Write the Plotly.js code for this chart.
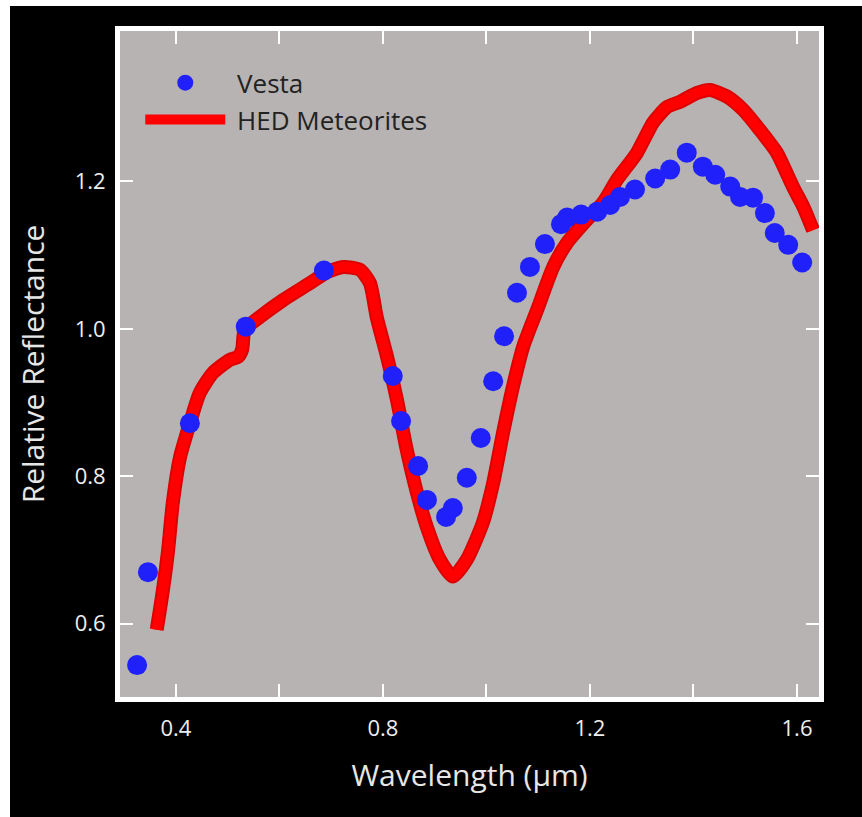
<!DOCTYPE html>
<html>
<head>
<meta charset="utf-8">
<script src="https://cdn.plot.ly/plotly-3.0.1.min.js"></script>
<style>
html,body{margin:0;padding:0;background:#ffffff;width:862px;height:817px;overflow:hidden;}
#chart{position:absolute;left:10px;top:6px;width:852px;height:811px;}
</style>
</head>
<body>
<div id="chart"></div>
<script>
// Vesta spectrum (points)
const vestaX = [0.325,0.346,0.427,0.535,0.686,0.819,0.835,0.868,0.885,0.922,0.935,0.962,0.989,1.013,1.034,1.059,1.084,1.113,1.144,1.156,1.183,1.214,1.239,1.258,1.287,1.326,1.355,1.387,1.418,1.442,1.471,1.490,1.515,1.538,1.557,1.583,1.610];
const vestaY = [0.544,0.670,0.872,1.003,1.079,0.936,0.875,0.814,0.768,0.745,0.757,0.798,0.852,0.929,0.990,1.049,1.084,1.115,1.142,1.151,1.155,1.159,1.168,1.179,1.189,1.204,1.216,1.239,1.220,1.209,1.193,1.179,1.178,1.157,1.130,1.114,1.090];

// HED meteorites average spectrum (line)
const hedX = [0.363,0.375,0.385,0.394,0.408,0.427,0.446,0.471,0.504,0.520,0.528,0.533,0.562,0.607,0.659,0.692,0.723,0.756,0.775,0.788,0.808,0.827,0.846,0.866,0.885,0.910,0.935,0.962,0.993,1.013,1.032,1.051,1.071,1.098,1.129,1.156,1.194,1.225,1.252,1.291,1.322,1.349,1.374,1.407,1.432,1.465,1.496,1.528,1.561,1.592,1.612,1.631];
const hedY = [0.592,0.646,0.700,0.764,0.826,0.872,0.913,0.940,0.958,0.962,0.972,0.999,1.016,1.039,1.062,1.077,1.084,1.080,1.062,1.016,0.962,0.904,0.836,0.777,0.731,0.687,0.664,0.687,0.737,0.791,0.859,0.921,0.976,1.026,1.084,1.117,1.148,1.171,1.202,1.239,1.280,1.301,1.308,1.320,1.324,1.315,1.297,1.270,1.239,1.193,1.166,1.134];

const xTickVals = [0.4,0.6,0.8,1.0,1.2,1.4,1.6];
const xTickText = ['0.4','','0.8','','1.2','','1.6'];
const yTickVals = [0.6,0.8,1.0,1.2];
const yTickText = ['0.6','0.8','1.0','1.2'];

const traces = [
  {
    x: hedX, y: hedY, type: 'scatter', mode: 'lines',
    line: {color: 'rgb(220,0,0)', width: 14, shape: 'spline', smoothing: 0.6},
    showlegend: false, hoverinfo: 'skip'
  },
  {
    x: hedX, y: hedY, type: 'scatter', mode: 'lines', name: '\u00a0HED Meteorites',
    line: {color: 'rgb(255,0,0)', width: 10, shape: 'spline', smoothing: 0.6},
    legendrank: 2
  },
  {
    x: vestaX, y: vestaY, type: 'scatter', mode: 'markers', name: '\u00a0Vesta',
    marker: {color: 'rgb(32,32,250)', size: 20},
    legendrank: 1
  }
];

const axisCommon = {
  showline: true, linecolor: '#ffffff', linewidth: 5, mirror: 'ticks',
  ticks: 'inside', ticklen: 13, tickwidth: 2, tickcolor: '#ffffff',
  showgrid: false, zeroline: false,
  tickfont: {family: 'Open Sans, sans-serif', size: 22, color: '#eeeeee'}
};

const layout = {
  width: 852, height: 811,
  paper_bgcolor: '#000000', plot_bgcolor: 'rgb(182,179,178)',
  margin: {l: 110, r: 43, t: 25, b: 120},
  showlegend: true,
  legend: {
    x: 0.029, y: 0.9575, xanchor: 'left', yanchor: 'top',
    bgcolor: 'rgba(0,0,0,0)', itemwidth: 80,
    font: {family: 'Open Sans, sans-serif', size: 26, color: '#222222'}
  },
  xaxis: Object.assign({}, axisCommon, {
    range: [0.292, 1.6425],
    tickvals: xTickVals, ticktext: xTickText,
    ticklabelstandoff: 8,
    title: {text: 'Wavelength (µm)', standoff: 25,
      font: {family: 'Open Sans, sans-serif', size: 30, color: '#e6e6e6'}}
  }),
  yaxis: Object.assign({}, axisCommon, {
    range: [0.5007, 1.404],
    tickvals: yTickVals, ticktext: yTickText,
    ticklabelstandoff: 5,
    title: {text: 'Relative Reflectance', standoff: 23,
      font: {family: 'Open Sans, sans-serif', size: 30, color: '#e6e6e6'}}
  })
};

Plotly.newPlot('chart', traces, layout, {displayModeBar: false, staticPlot: true});
</script>
</body>
</html>
